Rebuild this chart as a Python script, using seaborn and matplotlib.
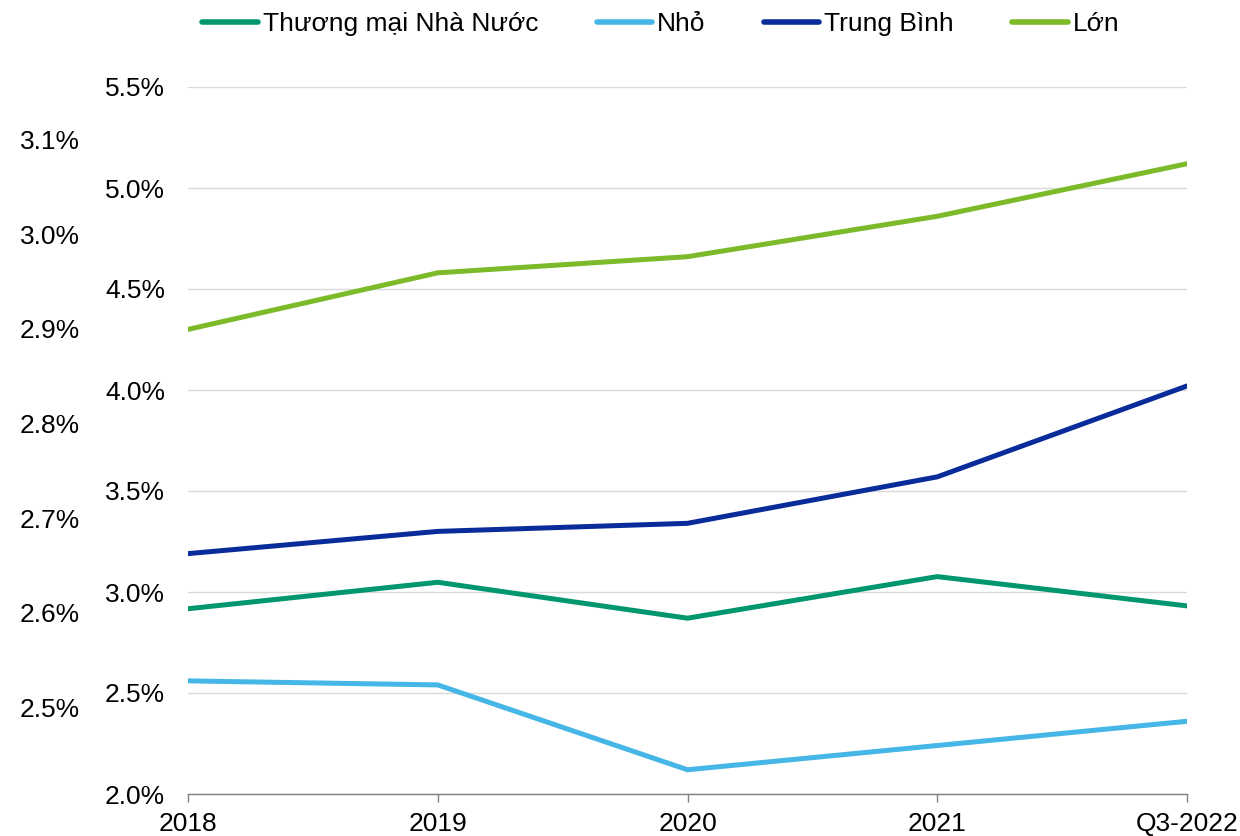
import matplotlib
matplotlib.use("Agg")
import matplotlib.pyplot as plt
import seaborn as sns
import pandas as pd
from matplotlib.ticker import FuncFormatter
from matplotlib.lines import Line2D

periods = ["2018", "2019", "2020", "2021", "Q3-2022"]
# secondary (outer) axis series
tmnn = [2.604, 2.632, 2.594, 2.638, 2.607]
# primary (inner) axis series
nho = [2.56, 2.54, 2.12, 2.24, 2.36]
trung_binh = [3.19, 3.30, 3.34, 3.57, 4.02]
lon = [4.30, 4.58, 4.66, 4.86, 5.12]

names = ["Thương mại Nhà Nước", "Nhỏ", "Trung Bình", "Lớn"]
colors = ["#00976F", "#45B6E6", "#0A2C9B", "#7CBA2A"]
left_ticks = [2.0, 2.5, 3.0, 3.5, 4.0, 4.5, 5.0, 5.5]
right_ticks = [2.5, 2.6, 2.7, 2.8, 2.9, 3.0, 3.1]

sns.set_style("white")
plt.rcParams["font.family"] = ["Liberation Sans", "DejaVu Sans"]
plt.rcParams["text.color"] = "black"
plt.rcParams["xtick.color"] = "black"
plt.rcParams["ytick.color"] = "black"
FS = 19

fig = plt.figure(figsize=(12.4, 8.36), dpi=100)
ax = fig.add_axes([188/1240, 1-794/836, (1187-188)/1240, (794-87)/836])
ax2 = ax.twinx()

x = list(range(len(periods)))
df_main = pd.DataFrame({"x": x * 3,
                        "v": nho + trung_binh + lon,
                        "s": [names[1]] * 5 + [names[2]] * 5 + [names[3]] * 5})
df_sec = pd.DataFrame({"x": x, "v": tmnn, "s": [names[0]] * 5})

sns.lineplot(data=df_main, x="x", y="v", hue="s", palette=dict(zip(names[1:], colors[1:])),
             linewidth=3.6, ax=ax, legend=False)
sns.lineplot(data=df_sec, x="x", y="v", hue="s", palette={names[0]: colors[0]},
             linewidth=3.6, ax=ax2, legend=False)

ax.set_xlim(0, 4)
ax.set_ylim(2.0, 5.5)
ax.set_yticks(left_ticks)
ax.yaxis.set_major_formatter(FuncFormatter(lambda v, p: f"{v:.1f}%"))
ax.grid(axis="y", color="#D9D9D9", linewidth=1)
ax.grid(axis="x", visible=False)
ax.set_xticks(x)
ax.set_xticklabels(periods)
ax.set_xlabel("")
ax.set_ylabel("")
ax.tick_params(axis="y", length=0, pad=16.5, labelsize=FS, labelcolor="black")
ax.tick_params(axis="x", length=6, width=1, color="#808080", direction="out", pad=7,
               labelsize=FS, labelcolor="black", bottom=True)
for s in ["top", "right", "left"]:
    ax.spines[s].set_visible(False)
ax.spines["bottom"].set_color("#808080")
ax.spines["bottom"].set_linewidth(1)

ax2.set_ylim(2.408, 3.156)
ax2.set_yticks(right_ticks)
ax2.yaxis.set_major_formatter(FuncFormatter(lambda v, p: f"{v:.1f}%"))
ax2.yaxis.tick_left()
ax2.tick_params(axis="y", length=0, pad=78, labelsize=FS, labelcolor="black")
ax2.set_ylabel("")
for s in ["top", "right", "left", "bottom"]:
    ax2.spines[s].set_visible(False)

handles = [Line2D([0], [0], color=c, linewidth=4, solid_capstyle="round") for c in colors]
fig.legend(handles, names, loc="center", bbox_to_anchor=(0.533, 1-24/836), ncol=4, frameon=False,
           fontsize=FS, handlelength=2.1, handletextpad=0.2, columnspacing=2.2)

fig.savefig("out.png", dpi=100)
